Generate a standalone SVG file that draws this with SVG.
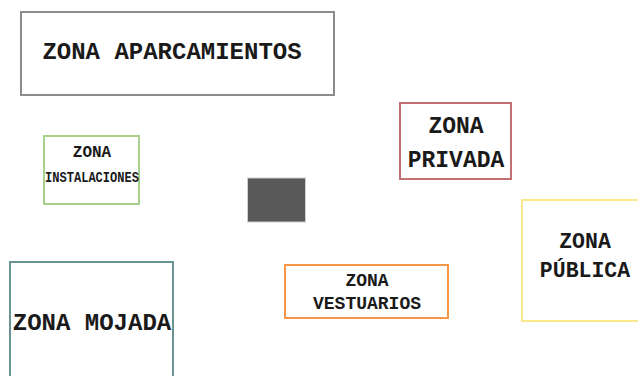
<svg xmlns="http://www.w3.org/2000/svg" width="638" height="376" viewBox="0 0 638 376">
<style>
.box{fill:#fff;stroke-width:2}
.t{font-family:"Liberation Mono","Courier New",monospace;font-weight:bold;fill:#1a1a1a;text-anchor:middle}
</style>
<rect width="638" height="376" fill="#fff"/>
<g id="aparcamientos">
<rect class="box" x="21" y="12" width="313" height="83" stroke="#8c8c8c"/>
<text class="t" x="172" y="59" font-size="24">ZONA APARCAMIENTOS</text>
</g>
<g id="instalaciones">
<rect class="box" x="44" y="136" width="95" height="68" stroke="#a9d18e"/>
<text class="t" x="92" y="157" font-size="16">ZONA</text>
<text class="t" x="92" y="182" font-size="14" textLength="94" lengthAdjust="spacingAndGlyphs">INSTALACIONES</text>
</g>
<g id="privada">
<rect class="box" x="400" y="103" width="111" height="76" stroke="#c07070"/>
<text class="t" x="456" y="133" font-size="23">ZONA</text>
<text class="t" x="456" y="167" font-size="23">PRIVADA</text>
</g>
<g id="publica">
<rect class="box" x="522" y="200" width="118" height="121" stroke="#fbe88a"/>
<text class="t" x="585" y="248" font-size="21.5">ZONA</text>
<text class="t" x="585" y="277" font-size="21.5">PÚBLICA</text>
</g>
<g id="mojada">
<rect class="box" x="10" y="262" width="163" height="120" stroke="#6a9494"/>
<text class="t" x="92" y="330" font-size="24">ZONA MOJADA</text>
</g>
<g id="vestuarios">
<rect class="box" x="285" y="265" width="163" height="53" stroke="#f79646"/>
<text class="t" x="367" y="286" font-size="18">ZONA</text>
<text class="t" x="367" y="309" font-size="18">VESTUARIOS</text>
</g>
<g id="cuadro">
<rect x="247.5" y="178" width="58" height="44" fill="#595959" stroke="#cfcfcf" stroke-width="1"/>
</g>
<g id="connectors"></g>
</svg>
